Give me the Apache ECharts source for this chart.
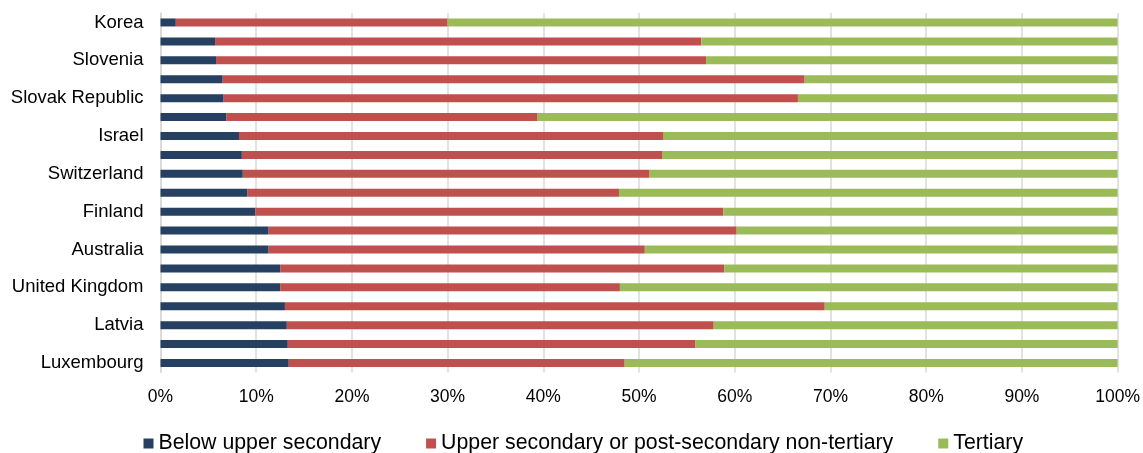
<!DOCTYPE html>
<html>
<head>
<meta charset="utf-8">
<title>Educational attainment</title>
<script src="https://cdn.jsdelivr.net/npm/echarts@6/dist/echarts.min.js"></script>
<style>
  html, body { margin: 0; padding: 0; background: #ffffff; }
  #chart { width: 1143px; height: 453px; }
</style>
</head>
<body>
<div id="chart"></div>
<script>
// Countries, top to bottom (every other name is shown on the axis)
const countries = [
  'Korea', 'Poland', 'Slovenia', 'Czech Republic', 'Slovak Republic', 'Canada',
  'Israel', 'United States', 'Switzerland', 'Ireland', 'Finland', 'Austria',
  'Australia', 'Estonia', 'United Kingdom', 'Germany', 'Latvia', 'France', 'Luxembourg'
];

// Share of population by attainment level (%)
const belowUpperSecondary = [
  1.6, 5.7, 5.8, 6.5, 6.6, 6.9, 8.2, 8.5, 8.6, 9.1,
  9.9, 11.3, 11.3, 12.5, 12.5, 13.0, 13.2, 13.3, 13.4
];
const upperSecondary = [
  28.4, 50.8, 51.2, 60.8, 60.0, 32.5, 44.3, 43.9, 42.5, 38.8,
  48.9, 48.9, 39.3, 46.4, 35.5, 56.4, 44.6, 42.6, 35.1
];
const tertiary = [
  70.0, 43.5, 43.0, 32.7, 33.4, 60.6, 47.5, 47.6, 48.9, 52.1,
  41.2, 39.8, 49.4, 41.1, 52.0, 30.6, 42.2, 44.1, 51.5
];

const seriesNames = [
  'Below upper secondary',
  'Upper secondary or post-secondary non-tertiary',
  'Tertiary'
];
const xTicks = [0, 10, 20, 30, 40, 50, 60, 70, 80, 90, 100];

const FONT = '"Liberation Sans", Arial, sans-serif';

const chart = echarts.init(document.getElementById('chart'), null, { renderer: 'canvas' });

const mkSeries = (name, data, color) => ({
  name: name,
  type: 'bar',
  stack: 'total',
  data: data,
  barWidth: 8,
  itemStyle: { color: color },
  emphasis: { disabled: true }
});

chart.setOption({
  animation: false,
  textStyle: { fontFamily: FONT },
  grid: { left: 160.5, right: 23, top: 13, bottom: 80.5, containLabel: false },
  legend: {
    left: 143.5,
    top: 433,
    padding: 0,
    itemWidth: 10,
    itemHeight: 10,
    itemGap: 45,
    icon: 'rect',
    textStyle: { fontFamily: FONT, fontSize: 21.3, color: '#000000' },
    data: seriesNames
  },
  xAxis: {
    type: 'value',
    min: xTicks[0],
    max: xTicks[xTicks.length - 1],
    interval: 10,
    axisLine: { show: false },
    axisTick: { show: false },
    axisLabel: {
      fontFamily: FONT,
      fontSize: 17.5,
      color: '#000000',
      margin: 16,
      formatter: v => v + '%'
    },
    splitLine: { show: true, lineStyle: { color: '#d9d9d9', width: 1.5 } }
  },
  yAxis: {
    type: 'category',
    inverse: true,
    data: countries,
    axisLine: { show: true, lineStyle: { color: '#d9d9d9', width: 1.5 } },
    axisTick: { show: false },
    axisLabel: {
      interval: 1,
      fontFamily: FONT,
      fontSize: 18.5,
      color: '#000000',
      margin: 17
    },
    splitLine: { show: false }
  },
  series: [
    mkSeries(seriesNames[0], belowUpperSecondary, '#254061'),
    mkSeries(seriesNames[1], upperSecondary, '#c0504d'),
    mkSeries(seriesNames[2], tertiary, '#9bbb59')
  ]
});
</script>
</body>
</html>
